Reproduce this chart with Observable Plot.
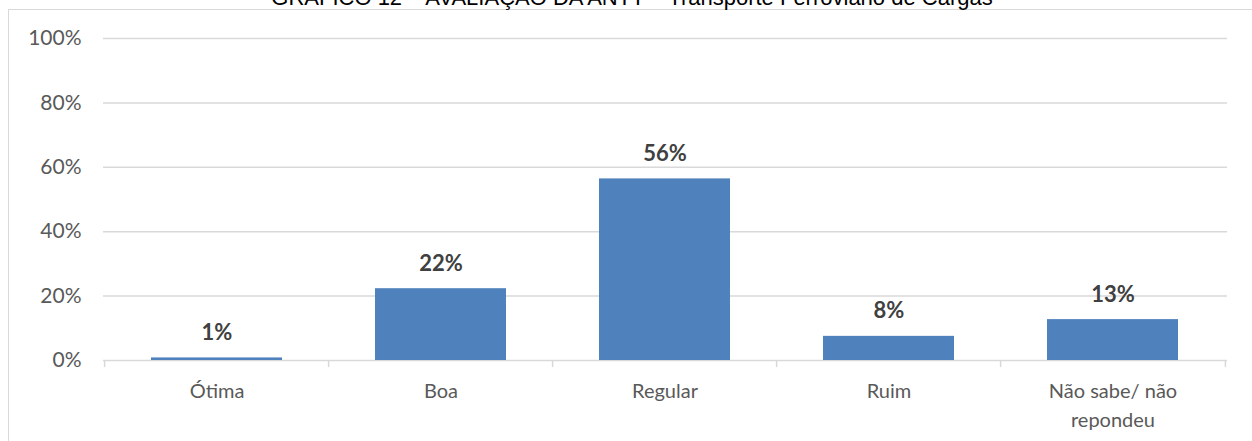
<!DOCTYPE html>
<html>
<head>
<meta charset="utf-8">
<script src="https://cdn.jsdelivr.net/npm/d3@7"></script>
<script src="https://cdn.jsdelivr.net/npm/@observablehq/plot@0.6"></script>
<style>
  html, body { margin: 0; padding: 0; background: #fff; }
  #wrap { position: relative; width: 1252px; height: 441px; overflow: hidden; }
  #frame { position: absolute; left: 8px; top: 9px; width: 1300px; height: 500px; border: 1.5px solid #d9d9d9; box-sizing: border-box; }
  #title { position: absolute; left: 0; width: 1264px; top: -13.5px; text-align: center; font-family: "Liberation Sans", Arial, sans-serif; font-size: 22px; line-height: 22px; color: #000; white-space: nowrap; }
  #chart { position: absolute; left: 0; top: 0; }
</style>
</head>
<body>
<div id="wrap">
  <div id="frame"></div>
  <div id="title">GRÁFICO 12 – AVALIAÇÃO DA ANTT – Transporte Ferroviário de Cargas</div>
  <div id="chart"></div>
</div>
<script>
const categories = ["Ótima", "Boa", "Regular", "Ruim", "Não sabe/ não\nrepondeu"];
const values = [0.8, 22.3, 56.4, 7.5, 12.7];
const yTicks = [0, 20, 40, 60, 80, 100];

const data = categories.map((c, i) => ({category: c, value: values[i]}));

const W = 1252, H = 441;
const mL = 103, mR = 25, mT = 38, mB = 81;
const step = (W - mL - mR) / categories.length;
const font = "Lato, 'Open Sans', sans-serif";

const chart = Plot.plot({
  width: W,
  height: H,
  marginLeft: mL,
  marginRight: mR,
  marginTop: mT,
  marginBottom: mB,
  style: {fontFamily: font, background: "transparent", overflow: "visible"},
  x: {domain: categories, paddingInner: 0.413, paddingOuter: 0.2065, align: 0.5},
  y: {domain: [0, 100]},
  marks: [
    Plot.gridY(yTicks.filter(d => d > 0), {stroke: "#d9d9d9", strokeOpacity: 1, strokeWidth: 1.5}),
    Plot.ruleY([0], {stroke: "#d9d9d9", strokeWidth: 1.5}),
    Plot.ruleX(categories, {x: d => d, y1: 0, y2: -2.2, dx: -step / 2, stroke: "#d9d9d9", strokeWidth: 1.5, clip: false}),
    Plot.ruleX(categories.slice(-1), {x: d => d, y1: 0, y2: -2.2, dx: step / 2, stroke: "#d9d9d9", strokeWidth: 1.5, clip: false}),
    Plot.barY(data, {x: "category", y: "value", fill: "#4f81bd"}),
    Plot.text(data, {x: "category", y: "value", text: d => Math.round(d.value) + "%", dy: -25, fontSize: 22, fontWeight: "bold", fill: "#404040"}),
    Plot.axisY({ticks: yTicks, tickFormat: d => d + "%", tickSize: 0, tickPadding: 22, fontSize: 21, fill: "#595959", label: null}),
    Plot.axisX({tickSize: 0, tickPadding: 17, fontSize: 20, fill: "#595959", lineHeight: 1.45, label: null})
  ]
});
document.getElementById("chart").appendChild(chart);
</script>
</body>
</html>
